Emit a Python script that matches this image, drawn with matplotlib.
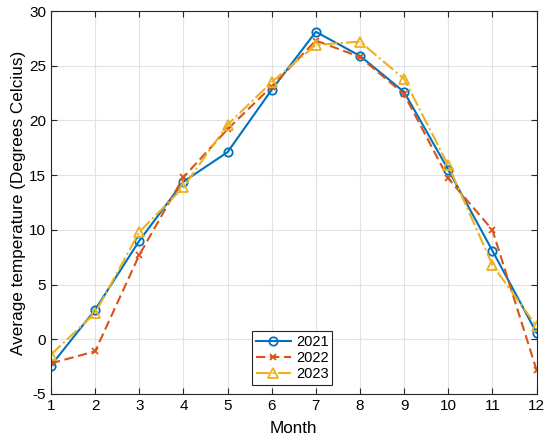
import numpy as np
import matplotlib.pyplot as plt

plt.rcParams['font.family'] = ['Liberation Sans', 'DejaVu Sans']
plt.rcParams['axes.unicode_minus'] = False

months = [1, 2, 3, 4, 5, 6, 7, 8, 9, 10, 11, 12]
t2021 = [-2.4, 2.7, 9.0, 14.4, 17.1, 22.8, 28.1, 25.9, 22.6, 15.5, 8.1, 0.6]
t2022 = [-2.2, -1.1, 7.7, 14.8, 19.2, 23.1, 27.3, 25.8, 22.4, 14.7, 10.0, -2.8]
t2023 = [-1.4, 2.4, 9.8, 13.9, 19.6, 23.5, 26.9, 27.2, 23.8, 15.9, 6.8, 1.2]

fig = plt.figure(figsize=(5.5, 4.42), dpi=100)
ax = fig.add_axes([0.0927, 0.1086, 0.8828, 0.8665])

ax.plot(months, t2021, '-o', color='#0072BD', lw=1.5, ms=6, mfc='none', mew=1.3, label='2021')
ax.plot(months, t2022, '--x', color='#D95319', lw=1.5, ms=5, mew=1.3, dashes=(4.5, 2.2), label='2022')
ax.plot(months, t2023, '-.^', color='#EDB120', lw=1.5, ms=7, mfc='none', mew=1.3, label='2023')

ax.set_xlim(1, 12)
ax.set_ylim(-5, 30)
ax.set_xticks(months)
ax.set_yticks(np.arange(-5, 31, 5))
ax.grid(True, color='#e3e3e3', lw=0.8)
ax.set_axisbelow(True)
ax.tick_params(direction='in', top=True, right=True, labelsize=11, length=4, color='#262626')
for s in ax.spines.values():
    s.set_color('#262626')
    s.set_linewidth(0.8)

ax.set_xlabel('Month', fontsize=12.3, labelpad=6)
ax.set_ylabel('Average temperature (Degrees Celcius)', fontsize=12.3, labelpad=2)

leg = ax.legend(loc='lower center', bbox_to_anchor=(0.497, 0.012), fontsize=10.5,
                fancybox=False, framealpha=1, edgecolor='#262626',
                handlelength=2.4, borderpad=0.25, labelspacing=0.15, handletextpad=0.35,
                borderaxespad=0.3)
leg.get_frame().set_linewidth(0.8)

fig.savefig('out.png', dpi=100)
